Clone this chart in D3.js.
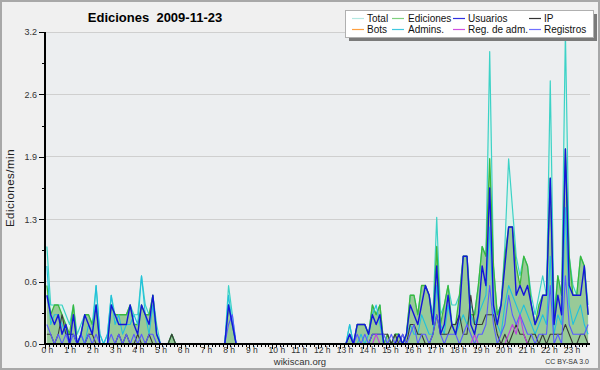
<!DOCTYPE html>
<meta charset="utf-8"/>
<head>
<script src="https://d3js.org/d3.v7.min.js"></script>
<style>
body { margin: 0; background: #f0f0f0; }
svg { display: block; font-family: 'Liberation Sans', Arial, sans-serif; }
.grid line { stroke: #cfcfcf; shape-rendering: crispEdges; }
.axis text { fill: #333; }
.axis line { stroke: #000; shape-rendering: crispEdges; }
.axis path { stroke: none; }
.serie { fill: none; stroke-linejoin: round; }
</style>
</head>
<body>
<div id="chart"></div>
<script type="text/javascript">

// edits per 10 minutes, one row per hour (0 h .. 23 h)
var total = [
  10,4,4,4,4,3,  2,4,1,2,3,3,  2,6,1,0,1,5,  3,3,3,3,4,3,
  3,7,4,3,5,2,   0,0,0,1,0,0,  0,0,0,0,0,0,  0,0,0,0,0,0,
  6,3,0,0,0,0,   0,0,0,0,0,0,  0,0,0,0,0,0,  0,0,0,0,0,0,
  0,0,0,0,0,0,   0,0,2,0,2,2,  2,1,4,3,4,0,  1,0,1,1,0,1,
  5,5,3,6,6,5,   3,13,3,4,6,4, 4,5,9,9,4,3,  6,10,9,30,8,3,
  4,10,19,14,9,7, 9,8,5,3,5,7, 5,27,3,7,5,32, 9,6,5,9,8,4
];
var ediciones = [
  6,3,4,4,3,2,   1,4,0,1,3,3,  2,4,0,0,0,4,  3,3,3,3,4,2,
  2,4,3,3,5,1,   0,0,0,1,0,0,  0,0,0,0,0,0,  0,0,0,0,0,0,
  4,2,0,0,0,0,   0,0,0,0,0,0,  0,0,0,0,0,0,  0,0,0,0,0,0,
  0,0,0,0,0,0,   0,0,1,0,2,2,  2,1,4,3,4,0,  1,0,1,1,0,1,
  5,5,3,6,6,5,   2,10,2,4,6,2, 2,5,9,9,3,3,  6,10,9,19,8,3,
  4,9,12,12,8,6, 9,8,4,2,4,5,  5,17,2,7,5,20, 9,5,5,9,8,3
];
var usuarios = [
  5,3,2,3,1,2,   0,3,0,1,3,2,  1,4,0,0,0,4,  3,2,2,2,4,2,
  1,4,3,2,5,1,   0,0,0,0,0,0,  0,0,0,0,0,0,  0,0,0,0,0,0,
  4,2,0,0,0,0,   0,0,0,0,0,0,  0,0,0,0,0,0,  0,0,0,0,0,0,
  0,0,0,0,0,0,   0,0,1,0,2,2,  2,1,3,2,3,0,  0,0,0,1,0,1,
  4,3,2,4,6,5,   2,8,1,2,5,2,  1,3,9,9,2,1,  3,8,6,16,4,2,
  4,8,12,12,5,6, 5,6,4,2,3,5,  5,17,2,5,3,20, 6,5,5,5,8,3
];
var ip = [
  1,1,0,1,3,1,   1,1,0,0,0,1,  1,0,0,0,0,0,  0,1,0,1,0,0,
  1,0,0,1,0,0,   0,0,0,1,0,0,  0,0,0,0,0,0,  0,0,0,0,0,0,
  0,0,0,0,0,0,   0,0,0,0,0,0,  0,0,0,0,0,0,  0,0,0,0,0,0,
  0,0,0,0,0,0,   0,0,0,0,0,0,  0,0,1,1,1,1,  1,0,1,0,1,0,
  2,2,1,1,0,0,   1,3,1,1,1,2,  2,3,1,1,5,2,  2,2,3,3,3,1,
  0,1,0,1,2,1,   1,0,1,1,0,1,  0,1,1,1,1,2,  1,0,0,1,1,0
];
var bots = [
  0,0,0,0,0,0,   0,0,0,0,0,0,  0,0,0,0,0,0,  0,0,0,0,0,0,
  0,0,0,0,0,0,   0,0,0,0,0,0,  0,0,0,0,0,0,  0,0,0,0,0,0,
  0,0,0,0,0,0,   0,0,0,0,0,0,  0,0,0,0,0,0,  0,0,0,0,0,0,
  0,0,0,0,0,0,   0,0,0,0,0,0,  0,0,0,0,0,0,  0,0,0,0,0,0,
  0,0,0,0,0,0,   0,0,0,0,0,0,  0,0,0,0,0,0,  0,0,0,0,0,0,
  0,0,0,0,0,0,   0,0,0,0,0,0,  0,0,0,0,0,0,  0,0,0,0,0,0
];
var admins = [
  8,2,3,3,2,1,   1,1,0,1,0,2,  1,6,1,0,1,5,  2,3,1,2,2,3,
  2,7,3,1,4,1,   0,0,0,0,0,0,  0,0,0,0,0,0,  0,0,0,0,0,0,
  5,2,0,0,0,0,   0,0,0,0,0,0,  0,0,0,0,0,0,  0,0,0,0,0,0,
  0,0,0,0,0,0,   0,0,2,0,0,1,  0,1,3,4,2,0,  0,0,0,0,0,1,
  2,1,1,3,2,1,   1,6,2,1,4,2,  1,2,3,2,3,2,  3,4,5,12,3,2,
  1,4,6,5,4,3,   4,3,2,1,2,3,  2,9,1,3,2,14, 4,2,3,4,2,1
];
var regAdm = [
  0,0,0,0,0,0,   0,0,0,0,0,0,  0,0,0,0,0,0,  0,0,0,0,0,0,
  0,0,0,0,0,0,   0,0,0,0,0,0,  0,0,0,0,0,0,  0,0,0,0,0,0,
  0,0,0,0,0,0,   0,0,0,0,0,0,  0,0,0,0,0,0,  0,0,0,0,0,0,
  0,0,0,0,0,0,   0,0,0,0,0,0,  0,0,0,1,0,0,  0,0,0,0,0,0,
  0,0,0,0,0,0,   0,0,0,0,0,0,  0,0,0,0,0,1,  0,0,0,0,0,0,
  0,0,1,2,1,3,   1,0,0,0,0,0,  0,0,0,0,0,0,  0,0,0,0,0,0
];
var registros = [
  2,1,0,1,0,1,   0,1,0,1,0,1,  0,1,0,0,0,1,  0,1,0,1,0,1,
  0,1,0,1,1,0,   0,0,0,0,0,0,  0,0,0,0,0,0,  0,0,0,0,0,0,
  2,3,0,0,0,0,   0,0,0,0,0,0,  0,0,0,0,0,0,  0,0,0,0,0,0,
  0,0,0,0,0,0,   0,0,1,0,1,0,  1,0,1,1,1,1,  0,1,0,0,1,0,
  1,2,0,1,1,0,   1,3,1,0,1,1,  1,0,1,2,1,0,  1,1,2,6,2,0,
  1,2,5,3,2,3,   2,1,1,0,1,1,  1,6,0,1,0,7,  2,1,1,1,1,2
];

var yTicks = [0, 0.64, 1.28, 1.92, 2.56, 3.2];
var hours = d3.range(0, 24);

var legendItems = [
  { name: "Total",        color: "#b4e8e2", col: 0, row: 0 },
  { name: "Ediciones",    color: "#7fd07f", col: 1, row: 0 },
  { name: "Usuarios",     color: "#3030e0", col: 2, row: 0 },
  { name: "IP",           color: "#333333", col: 3, row: 0 },
  { name: "Bots",         color: "#ffa040", col: 0, row: 1 },
  { name: "Admins.",      color: "#40c8e0", col: 1, row: 1 },
  { name: "Reg. de adm.", color: "#d050e0", col: 2, row: 1 },
  { name: "Registros",    color: "#7070ff", col: 3, row: 1 }
];

var W = 600, H = 370;
var pLeft = 45, pRight = 590, pTop = 32, pBottom = 344;

var svg = d3.select("#chart").append("svg")
    .attr("width", W)
    .attr("height", H);

// frame
svg.append("rect")
    .attr("x", 1).attr("y", 1)
    .attr("width", W - 2).attr("height", H - 2)
    .attr("fill", "#f0f0f0")
    .attr("stroke", "#a8a8a8")
    .attr("stroke-width", 2);

svg.append("rect")
    .attr("x", pLeft).attr("y", pTop)
    .attr("width", pRight - pLeft).attr("height", pBottom - pTop)
    .attr("fill", "#eceef0");

var x = d3.scaleLinear().domain([0, 24]).range([pLeft, pRight]);
var y = d3.scaleLinear().domain([0, 3.2]).range([pBottom, pTop]);

// grid
svg.append("g").attr("class", "grid")
  .selectAll("line")
  .data(yTicks.slice(1))
  .enter().append("line")
    .attr("x1", pLeft).attr("x2", pRight)
    .attr("y1", function(d) { return y(d); })
    .attr("y2", function(d) { return y(d); });

// points sit in the middle of each 10 min slot
function xi(i) { return x((i + 0.5) / 6); }
function val(c) { return c / 10; }

var line = d3.line()
    .x(function(d, i) { return xi(i); })
    .y(function(d) { return y(val(d)); });

var area = d3.area()
    .x(function(d, i) { return xi(i); })
    .y0(pBottom)
    .y1(function(d) { return y(val(d)); });

var plot = svg.append("g");

plot.append("path").datum(total)
    .attr("d", area)
    .attr("fill", "#dcf2ec");
plot.append("path").datum(ediciones)
    .attr("d", area)
    .attr("fill", "#98ca98");

var series = [
  { data: total,     color: "#3cd2c6", w: 1.2 },
  { data: ediciones, color: "#3cb83c", w: 1.3 },
  { data: admins,    color: "#22c0dc", w: 1.1 },
  { data: ip,        color: "#3a3a3a", w: 1.1 },
  { data: registros, color: "#5a5aff", w: 1.1 },
  { data: regAdm,    color: "#c040e0", w: 1.1 },
  { data: usuarios,  color: "#1414dc", w: 1.4 },
  { data: bots,      color: "#ff9a30", w: 1.1 }
];

series.forEach(function(s) {
  plot.append("path").datum(s.data)
      .attr("class", "serie")
      .attr("d", line)
      .attr("stroke", s.color)
      .attr("stroke-width", s.w);
});

// y axis
var yAxis = svg.append("g").attr("class", "axis")
    .attr("transform", "translate(" + pLeft + ",0)")
    .call(d3.axisLeft(y).tickValues(yTicks).tickSize(6).tickSizeOuter(0)
      .tickFormat(d3.format(".1f")));
yAxis.selectAll("text").attr("font-size", 9).attr("dx", 1);

svg.append("g").attr("class", "axis")
    .attr("transform", "translate(" + pLeft + ",0)")
    .call(d3.axisLeft(y).tickValues([0.32, 0.96, 1.6, 2.24, 2.88]).tickSize(3).tickFormat(""));

// x axis, minor ticks every 10 min
svg.append("g").attr("class", "axis")
    .attr("transform", "translate(0," + pBottom + ")")
    .call(d3.axisBottom(x).tickValues(d3.range(1, 144).map(function(i) { return i / 6; }))
      .tickSize(3).tickFormat(""));

var xAxis = svg.append("g").attr("class", "axis")
    .attr("transform", "translate(0," + pBottom + ")")
    .call(d3.axisBottom(x).tickValues(hours).tickSize(5)
      .tickFormat(function(d) { return d + " h"; }));
xAxis.selectAll("text")
    .attr("font-size", 8.5)
    .attr("y", 3)
    .attr("text-anchor", "start")
    .attr("dx", -4);

// axis lines
svg.append("line")
    .attr("x1", pLeft).attr("x2", pLeft)
    .attr("y1", pTop).attr("y2", pBottom + 1)
    .attr("stroke", "#000").attr("stroke-width", 2);
svg.append("line")
    .attr("x1", pLeft - 1).attr("x2", pRight)
    .attr("y1", pBottom).attr("y2", pBottom)
    .attr("stroke", "#000").attr("stroke-width", 2);

// texts
svg.append("text")
    .attr("x", 155).attr("y", 22)
    .attr("text-anchor", "middle")
    .attr("font-size", 13)
    .attr("font-weight", "bold")
    .style("white-space", "pre")
    .text("Ediciones  2009-11-23");

svg.append("text")
    .attr("transform", "translate(14,188) rotate(-90)")
    .attr("text-anchor", "middle")
    .attr("font-size", 11.5)
    .attr("letter-spacing", 0.5)
    .attr("fill", "#222")
    .text("Ediciones/min");

svg.append("text")
    .attr("x", 300).attr("y", 365)
    .attr("text-anchor", "middle")
    .attr("font-size", 9.5)
    .attr("fill", "#333")
    .text("wikiscan.org");

svg.append("text")
    .attr("x", 589).attr("y", 364)
    .attr("text-anchor", "end")
    .attr("font-size", 7)
    .attr("fill", "#333")
    .text("CC BY-SA 3.0");

// legend
var lg = svg.append("g");
lg.append("rect")
    .attr("x", 349).attr("y", 14)
    .attr("width", 248).attr("height", 27)
    .attr("fill", "#7a7a7a");
lg.append("rect")
    .attr("x", 345.5).attr("y", 10.5)
    .attr("width", 248).attr("height", 27)
    .attr("fill", "#fff")
    .attr("stroke", "#b0b0b0");

var colX = [352, 392, 453, 529];
var textX = [367, 408, 468, 544];

lg.selectAll(".sw")
  .data(legendItems)
  .enter().append("line")
    .attr("x1", function(d) { return colX[d.col]; })
    .attr("x2", function(d) { return colX[d.col] + 12; })
    .attr("y1", function(d) { return 18.5 + d.row * 11; })
    .attr("y2", function(d) { return 18.5 + d.row * 11; })
    .attr("stroke", function(d) { return d.color; })
    .attr("stroke-width", 1.2);

lg.selectAll(".lt")
  .data(legendItems)
  .enter().append("text")
    .attr("x", function(d) { return textX[d.col]; })
    .attr("y", function(d) { return 22 + d.row * 11; })
    .attr("font-size", 10)
    .attr("fill", "#111")
    .text(function(d) { return d.name; });

</script>
</body>
